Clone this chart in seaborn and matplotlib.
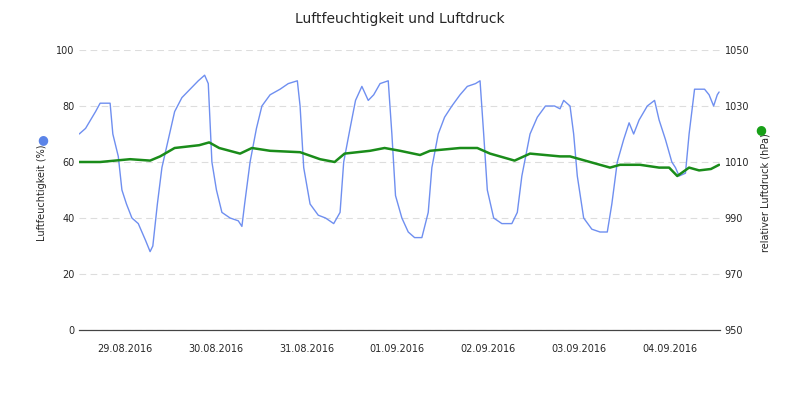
import matplotlib
matplotlib.use("Agg")
import matplotlib.pyplot as plt
import seaborn as sns
import pandas as pd

# time in days since 29.08.2016 00:00
hum_days = [0, .07, .18, .23, .34, .37, .43, .47, .52, .58, .65, .73, .78, .81, .86, .91, .98,
            1.05, 1.13, 1.22, 1.31, 1.38, 1.42, 1.46, 1.51, 1.57, 1.66, 1.75, 1.79, 1.82, 1.88, 1.95,
            2.01, 2.10, 2.21, 2.30, 2.40, 2.43, 2.47, 2.54, 2.63, 2.71, 2.80, 2.87, 2.91, 2.98,
            3.04, 3.11, 3.18, 3.24, 3.31, 3.40, 3.44, 3.48, 3.55, 3.62, 3.69, 3.77, 3.84, 3.88, 3.95,
            4.02, 4.10, 4.19, 4.27, 4.36, 4.41, 4.45, 4.49, 4.56, 4.65, 4.76, 4.82, 4.87, 4.96,
            5.04, 5.13, 5.23, 5.29, 5.33, 5.40, 5.44, 5.48, 5.55, 5.64, 5.73, 5.81, 5.86, 5.92, 5.99,
            6.05, 6.10, 6.16, 6.25, 6.33, 6.38, 6.45, 6.52, 6.56, 6.60, 6.67, 6.71, 6.77, 6.88, 6.93,
            6.98, 7.02, 7.04]
humidity = [70, 72, 78, 81, 81, 70, 62, 50, 45, 40, 38, 32, 28, 30, 45, 58, 68,
            78, 83, 86, 89, 91, 88, 60, 50, 42, 40, 39, 37, 45, 60, 72,
            80, 84, 86, 88, 89, 80, 58, 45, 41, 40, 38, 42, 60, 72,
            82, 87, 82, 84, 88, 89, 70, 48, 40, 35, 33, 33, 42, 58, 70,
            76, 80, 84, 87, 88, 89, 70, 50, 40, 38, 38, 42, 55, 70,
            76, 80, 80, 79, 82, 80, 70, 55, 40, 36, 35, 35, 45, 60, 68,
            74, 70, 75, 80, 82, 75, 68, 60, 58, 55, 56, 70, 86, 86, 84,
            80, 84, 85]
pres_days = [0, .23, .56, .78, .89, 1.05, 1.32, 1.43, 1.54, 1.77, 1.90, 2.10, 2.43, 2.65, 2.81,
             2.92, 3.20, 3.36, 3.53, 3.75, 3.86, 4.19, 4.38, 4.52, 4.79, 4.96, 5.29, 5.40, 5.62,
             5.84, 5.95, 6.17, 6.38, 6.49, 6.58, 6.71, 6.82, 6.95, 7.04]
pressure = [1010, 1010, 1011, 1010.5, 1012, 1015, 1016, 1017, 1015, 1013, 1015, 1014, 1013.5,
            1011, 1010, 1013, 1014, 1015, 1014, 1012.5, 1014, 1015, 1015, 1013, 1010.5, 1013,
            1012, 1012, 1010, 1008, 1009, 1009, 1008, 1008, 1005, 1008, 1007, 1007.5, 1009]
day_labels = ["29.08.2016", "30.08.2016", "31.08.2016", "01.09.2016",
              "02.09.2016", "03.09.2016", "04.09.2016"]

sns.set_style("white")
plt.rcParams["font.family"] = ["DejaVu Sans"]
fig = plt.figure(figsize=(8, 4), dpi=100)
ax = fig.add_axes([0.099, 0.175, 0.801, 0.7])
ax2 = ax.twinx()

hdf = pd.DataFrame({"t": hum_days, "v": humidity})
pdf = pd.DataFrame({"t": pres_days, "v": pressure})
sns.lineplot(data=hdf, x="t", y="v", ax=ax, color="#6f8ff0", lw=1)
sns.lineplot(data=pdf, x="t", y="v", ax=ax2, color="#1a8c1a", lw=1.8)

ax.set_xlim(0, 7.05)
ax.set_ylim(0, 100)
ax2.set_ylim(950, 1050)
ax.set_yticks(range(0, 101, 20))
ax2.set_yticks(range(950, 1051, 20))
ax.yaxis.grid(True, ls=(0, (6, 4)), color="#dddddd", lw=0.8)
ax.set_xticks(range(0, 8))
ax.set_xticklabels([])
ax.set_xticks([i + 0.5 for i in range(7)], minor=True)
ax.set_xticklabels(day_labels, minor=True, fontsize=7)
ax.tick_params(axis="x", which="major", length=5, color="#444444", direction="out")
ax.tick_params(axis="x", which="minor", length=0, pad=10)
ax.tick_params(axis="y", length=0, labelsize=7)
ax2.tick_params(axis="y", length=0, labelsize=7)
for a in (ax, ax2):
    for s in ("top", "left", "right"):
        a.spines[s].set_visible(False)
    a.spines["bottom"].set_color("#444444")
ax.set_xlabel("")
ax.set_ylabel("Luftfeuchtigkeit (%)", fontsize=7)
ax.yaxis.set_label_coords(-0.05, 0.49)
ax2.set_ylabel("relativer Luftdruck (hPa)", fontsize=7)
ax2.yaxis.set_label_coords(1.063, 0.49)
fig.text(0.054, 0.65, "\u25cf", color="#5b84e8", fontsize=9, ha="center", va="center")
fig.text(0.951, 0.675, "\u25cf", color="#18a018", fontsize=9, ha="center", va="center")
fig.suptitle("Luftfeuchtigkeit und Luftdruck", y=0.97, fontsize=10)
fig.savefig("out.png", dpi=100)
